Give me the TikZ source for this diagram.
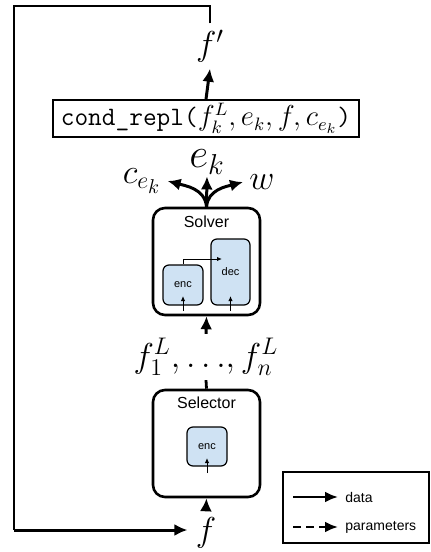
\documentclass[tikz,border=0pt]{standalone}
\usepackage{fontspec}
\setsansfont{Liberation Sans}
\usetikzlibrary{arrows.meta}
\definecolor{boxblue}{RGB}{207,226,243}
\begin{document}
\begin{tikzpicture}[x=0.5pt,y=-0.5pt,
  dataarrow/.style={line width=1.5pt,-{Latex[length=6.5pt,width=6pt]}},
  plainline/.style={line width=1.4pt},
  thinarrow/.style={line width=0.5pt,-{Latex[length=2.5pt,width=2.2pt]}},
  bigbox/.style={draw,line width=1.3pt,rounded corners=6pt,minimum width=53.5pt,minimum height=53.5pt,inner sep=0pt},
  module/.style={draw,line width=0.6pt,rounded corners=3pt,fill=boxblue,font=\sffamily\fontsize{5.5}{6}\selectfont,inner sep=0pt},
  lbl/.style={font=\sffamily\fontsize{8}{9}\selectfont,inner sep=0pt},
  leglbl/.style={font=\sffamily\fontsize{7}{8}\selectfont,inner sep=0pt,anchor=west},
  mathlbl/.style={inner sep=2pt,font=\LARGE},
]
\useasboundingbox (0,0) rectangle (430,552);

% feedback loop corners
\coordinate (loopA) at (14,6);
\coordinate (loopB) at (14,530);

% output
\node[mathlbl,inner sep=3pt] (fp) at (210,46) {$f'$};
\node[draw,line width=0.75pt,minimum width=153pt,minimum height=18.5pt,inner sep=0pt,font=\fontsize{13.3}{15}\selectfont] (cond) at (206,118.5)
  {\texttt{cond\_repl(}$f_k^L,e_k,f,c_{e_k}$\texttt{)}};

% solver outputs
\node[inner sep=1pt,font=\huge] (ek) at (207,162) {$e_k$};
\node[mathlbl,inner sep=3pt] (ce) at (142,181) {$c_{e_k}$};
\node[mathlbl,inner sep=3pt] (w) at (262,182) {$w$};

% solver
\node[bigbox] (solver) at (206.5,261.5) {};
\node[lbl] (solverlbl) at (206.5,222) {Solver};
\node[module,minimum width=20pt,minimum height=20pt] (senc) at (183,285) {enc};
\node[module,minimum width=19.5pt,minimum height=33pt] (sdec) at (230.5,272) {dec};
\coordinate (sdecin) at (222,259);
\coordinate (sencin) at (183,311);
\coordinate (sencup) at (183,296);
\coordinate (sdecinb) at (230.5,311);
\coordinate (sdecup) at (230.5,296);

% selected features
\node[mathlbl] (fl) at (206,357) {$f_1^L,\mathord{\ldots},f_n^L$};

% selector
\node[bigbox] (sel) at (206.5,443.5) {};
\node[lbl] (sellbl) at (206.5,403) {Selector};
\node[module,minimum width=20pt,minimum height=19.5pt] (lenc) at (207,446.5) {enc};
\coordinate (lencin) at (207,473);
\coordinate (lencup) at (207,458);

% input
\node[mathlbl,inner sep=4pt] (f) at (206,533) {$f$};

% connectors
\draw[dataarrow] (cond.north) -- (fp.south);
\draw[plainline] (fp.north) -- (fp.north |- loopA) -- (loopA) -- (loopB);
\draw[dataarrow] (loopB) -- (loopB -| f.west);
\draw[dataarrow] (f.north) -- (sel.south);
\draw[plainline] (sel.north) -- (fl.south);
\draw[dataarrow] (fl.north) -- (solver.south);
\draw[dataarrow] (solver.north) -- (ek.south);
\draw[dataarrow] (solver.north) to[out=95,in=-15] (ce.east);
\draw[dataarrow] (solver.north) to[out=85,in=195] (w.west);
\draw[thinarrow] (senc.north) |- (sdecin);
\draw[thinarrow] (sencin) -- (sencup);
\draw[thinarrow] (sdecinb) -- (sdecup);
\draw[thinarrow] (lencin) -- (lencup);

% legend
\node[draw,line width=0.7pt,minimum width=73pt,minimum height=35.5pt,inner sep=0pt] (legend) at (356,507.5) {};
\coordinate (d1) at (293,497);
\coordinate (d2) at (338,497);
\coordinate (p1) at (293,527);
\coordinate (p2) at (338,527);
\draw[line width=1.4pt,-{Latex[length=6.5pt,width=5.5pt]}] (d1) -- (d2);
\draw[line width=1.4pt,dash pattern=on 4pt off 2.5pt,-{Latex[length=6.5pt,width=5.5pt]}] (p1) -- (p2);
\node[leglbl] (dtext) at (345,497) {data};
\node[leglbl] (ptext) at (345,527) {parameters};
\end{tikzpicture}
\end{document}
